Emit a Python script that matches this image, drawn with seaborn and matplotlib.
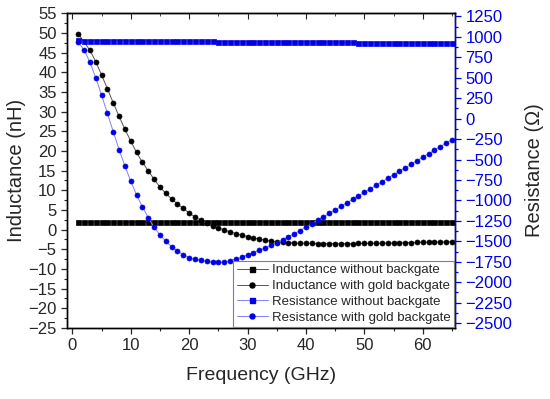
import seaborn as sns
import matplotlib.pyplot as plt
from matplotlib.ticker import MultipleLocator

# frequency points (GHz)
freq = [1, 2, 3, 4, 5, 6, 7, 8, 9, 10, 11, 12, 13, 14, 15, 16, 17, 18, 19, 20,
        21, 22, 23, 24, 25, 26, 27, 28, 29, 30, 31, 32, 33, 34, 35, 36, 37, 38, 39, 40,
        41, 42, 43, 44, 45, 46, 47, 48, 49, 50, 51, 52, 53, 54, 55, 56, 57, 58, 59, 60,
        61, 62, 63, 64, 65]
freq_gold = [1, 3, 4, 5, 6, 7, 8, 9, 10, 11, 12, 13, 14, 15, 16, 17, 18, 19, 20,
             21, 22, 23, 24, 25, 26, 27, 28, 29, 30, 31, 32, 33, 34, 35, 36, 37, 38, 39, 40,
             41, 42, 43, 44, 45, 46, 47, 48, 49, 50, 51, 52, 53, 54, 55, 56, 57, 58, 59, 60,
             61, 62, 63, 64, 65]

# inductance (nH)
ind_none = [1.9, 1.9, 1.9, 1.9, 1.9, 1.9, 1.9, 1.9, 1.9, 1.9, 1.9, 1.9, 1.9, 1.9, 1.9, 1.9, 1.9, 1.9, 1.9, 1.9,
            1.95, 1.95, 1.95, 1.95, 1.95, 1.95, 1.95, 1.95, 1.95, 1.95, 1.95, 1.95, 1.95, 1.95, 1.95, 1.95, 1.95, 1.95, 1.95, 1.95,
            1.95, 1.95, 1.95, 1.95, 1.95, 2.0, 2.0, 2.0, 2.0, 2.0, 2.0, 2.0, 2.0, 2.0, 2.0, 2.0, 2.0, 2.0, 2.0, 2.0,
            2.0, 2.0, 2.0, 2.0, 2.0]
ind_gold = [49.8, 45.6, 42.7, 39.3, 35.8, 32.2, 28.8, 25.5, 22.5, 19.6, 17.1, 14.9, 12.8, 10.8, 9.2, 7.8, 6.5, 5.4, 4.2,
            3.2, 2.4, 1.6, 0.9, 0.4, -0.1, -0.6, -1.0, -1.4, -1.8, -2.1, -2.4, -2.7, -2.9, -3.1, -3.2, -3.3, -3.4, -3.45, -3.5,
            -3.5, -3.55, -3.55, -3.55, -3.55, -3.55, -3.55, -3.55, -3.5, -3.5, -3.5, -3.45, -3.45, -3.4, -3.4, -3.35, -3.3, -3.3, -3.25, -3.2,
            -3.2, -3.15, -3.1, -3.1, -3.05]

# resistance (ohm)
res_none = [962, 955, 954, 954, 953, 953, 952, 952, 951, 951, 950, 950, 949, 949, 948, 948, 947, 947, 946, 946,
            945, 945, 944, 944, 943, 943, 942, 942, 941, 941, 940, 940, 939, 939, 938, 938, 937, 937, 936, 936,
            935, 935, 934, 934, 933, 933, 932, 932, 931, 931, 930, 930, 929, 929, 928, 928, 927, 927, 926, 926,
            925, 925, 924, 924, 923]
res_gold = [932, 843, 692, 501, 289, 65, -158, -378, -578, -765, -933, -1079, -1209, -1331, -1421, -1498, -1568, -1617, -1666, -1702,
            -1722, -1734, -1746, -1755, -1758, -1755, -1739, -1718, -1698, -1666, -1637, -1612, -1584, -1551, -1519, -1484, -1447, -1408, -1368, -1327,
            -1285, -1243, -1201, -1159, -1117, -1074, -1031, -988, -945, -902, -859, -816, -773, -730, -687, -644, -601, -558, -515, -472,
            -429, -386, -343, -300, -257]

sns.set_style('ticks')
plt.rcParams['font.family'] = ['Liberation Sans', 'DejaVu Sans']

blue = '#0000e6'
fig = plt.figure(figsize=(5.5, 3.99), dpi=100)
ax = fig.add_axes([0.122, 0.178, 0.705, 0.789])
ax2 = ax.twinx()

mk = dict(markersize=3.6, markeredgewidth=0.5, linewidth=0.7, legend=False)
sns.lineplot(x=freq, y=ind_none, ax=ax, color='#555555', marker='s',
             markerfacecolor='black', markeredgecolor='black', **mk)
sns.lineplot(x=freq_gold, y=ind_gold, ax=ax, color='#555555', marker='o',
             markerfacecolor='black', markeredgecolor='black', **mk)
sns.lineplot(x=freq, y=res_none, ax=ax2, color='#8080ff', marker='s',
             markerfacecolor=blue, markeredgecolor=blue, **mk)
sns.lineplot(x=freq, y=res_gold, ax=ax2, color='#8080ff', marker='o',
             markerfacecolor=blue, markeredgecolor=blue, **mk)

ax.set_xlim(-0.9, 65.5)
ax.set_ylim(-25, 55)
ax2.set_ylim(-2560, 1290)

ax.xaxis.set_major_locator(MultipleLocator(10))
ax.xaxis.set_minor_locator(MultipleLocator(5))
ax.yaxis.set_major_locator(MultipleLocator(5))
ax.yaxis.set_minor_locator(MultipleLocator(2.5))
ax2.yaxis.set_major_locator(MultipleLocator(250))
ax2.yaxis.set_minor_locator(MultipleLocator(125))

ax.tick_params(axis='x', which='both', direction='out', top=False, labelsize=12)
ax.tick_params(axis='y', which='both', direction='out', right=False, labelsize=12)
ax.tick_params(which='major', length=4, width=0.9)
ax.tick_params(which='minor', length=2, width=0.8)
ax2.tick_params(axis='y', which='both', direction='out', colors=blue, labelsize=12, width=0.9)
ax2.tick_params(axis='y', which='minor', length=2)
ax2.tick_params(axis='y', which='major', length=4)

for a in (ax, ax2):
    for s in a.spines.values():
        s.set_linewidth(1.0)
        s.set_color('black')
ax2.spines['right'].set_color(blue)

ax.set_xlabel('Frequency (GHz)', fontsize=14, labelpad=10)
ax.set_ylabel('Inductance (nH)', fontsize=14.5, labelpad=2)
ax2.set_ylabel('Resistance (Ω)', fontsize=14.5, labelpad=9)

# top ticks point inward like the original
secx = ax.secondary_xaxis('top')
secx.xaxis.set_major_locator(MultipleLocator(10))
secx.xaxis.set_minor_locator(MultipleLocator(5))
secx.tick_params(which='both', direction='in', labeltop=False)
secx.tick_params(which='major', length=4)
secx.tick_params(which='minor', length=2)

handles = [
    plt.Line2D([], [], color='#555555', marker='s', markersize=3.6, mfc='black', mec='black', lw=0.7),
    plt.Line2D([], [], color='#555555', marker='o', markersize=3.6, mfc='black', mec='black', lw=0.7),
    plt.Line2D([], [], color='#8080ff', marker='s', markersize=3.6, mfc=blue, mec=blue, lw=0.7),
    plt.Line2D([], [], color='#8080ff', marker='o', markersize=3.6, mfc=blue, mec=blue, lw=0.7),
]
labels = ['Inductance without backgate', 'Inductance with gold backgate',
          'Resistance without backgate', 'Resistance with gold backgate']
leg = ax2.legend(handles, labels, loc='lower right', fontsize=9.5, frameon=True, fancybox=False,
                 edgecolor='#808080', framealpha=1, borderaxespad=0.05, labelspacing=0.28,
                 handlelength=2.4, handletextpad=0.3, borderpad=0.25)
leg.get_frame().set_linewidth(0.8)

fig.savefig('out.png', dpi=100)
